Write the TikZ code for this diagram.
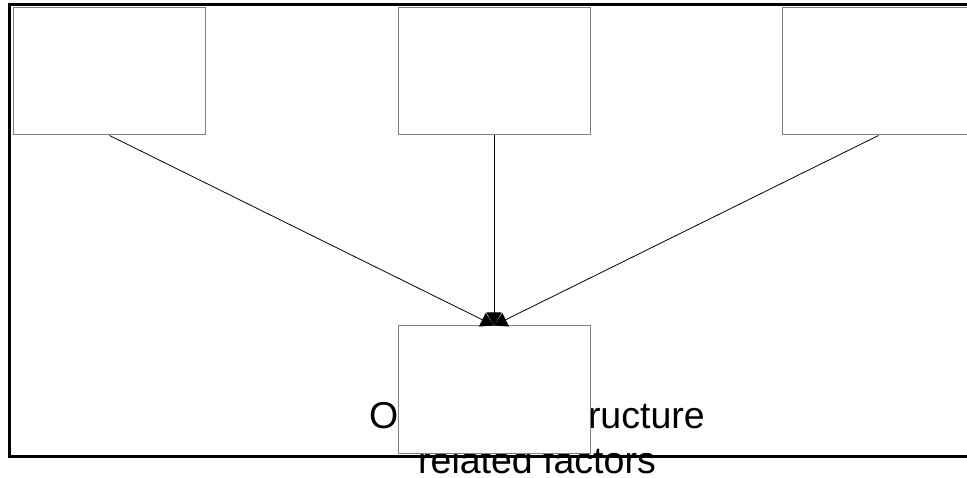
\documentclass[tikz,border=0pt]{standalone}
\usepackage{fontspec}
\setmainfont{Liberation Sans}
\usetikzlibrary{positioning,arrows.meta}

\tikzstyle{factor} = [rectangle, minimum width=192pt, minimum height=127pt, draw=gray, fill=white, line width=1pt, inner sep=0pt]
\tikzstyle{arrow} = [line width=0.8pt,-{Triangle[length=13pt,width=15pt]}]

\begin{document}
\begin{tikzpicture}[x=1pt,y=-1pt,node distance=384.5pt]
        \useasboundingbox (0,0) rectangle (967,478);
        \draw [line width=3pt] (9,4.5) rectangle (990,456.5);

        \node (ownerlabel) [align=center, inner sep=0pt, font=\fontsize{37.5}{45}\selectfont] at (537,437.5) {Ownership structure\\related factors};

        \node (leftfactor) [factor] at (109.5,71.5) {};
        \node (midfactor) [factor, right of=leftfactor] {};
        \node (rightfactor) [factor, right of=midfactor] {};
        \node (ownership) [factor, below of=midfactor, node distance=318pt] {};

        \draw [arrow] (leftfactor.south) -- (ownership.north);
        \draw [arrow] (midfactor.south) -- (ownership.north);
        \draw [arrow] (rightfactor.south) -- (ownership.north);
    \end{tikzpicture}
\end{document}
